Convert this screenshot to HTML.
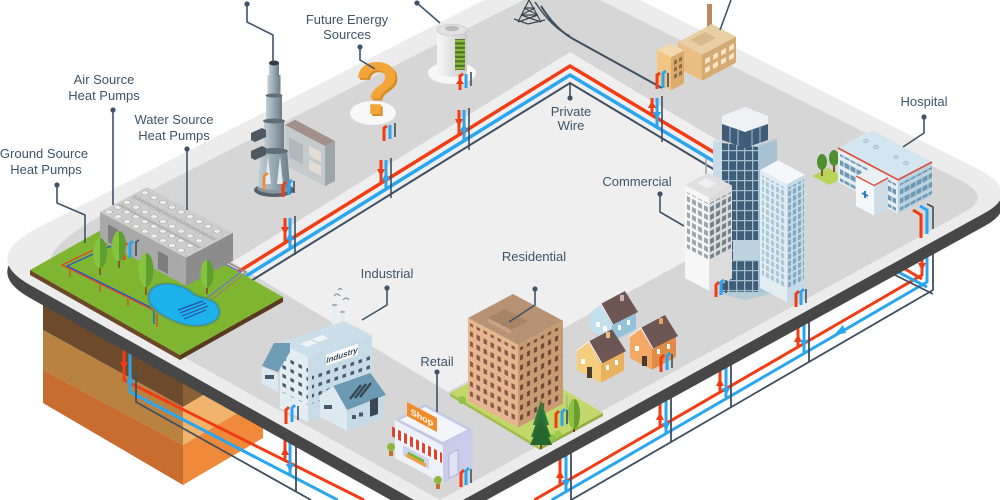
<!DOCTYPE html>
<html><head><meta charset="utf-8"><style>
html,body{margin:0;padding:0;background:#fff;width:1000px;height:500px;overflow:hidden;}
svg{display:block;overflow:hidden;}
text{font-family:"Liberation Sans",sans-serif;}
</style></head><body>
<svg width="1000" height="500" viewBox="0 0 1000 500" xmlns="http://www.w3.org/2000/svg">
<defs>
<pattern id="resL" width="7" height="10" patternUnits="userSpaceOnUse"><rect x="1.5" y="2" width="3.5" height="5" fill="#8c5a49"/><rect x="0.5" y="7.2" width="6" height="1.6" fill="#efb2a2"/></pattern>
<pattern id="resR" width="7" height="10" patternUnits="userSpaceOnUse"><rect x="2" y="2" width="3" height="5" fill="#6f4536"/></pattern>
<pattern id="gD" width="8" height="10" patternUnits="userSpaceOnUse"><rect width="8" height="10" fill="#3f5e79"/><rect width="8" height="1.2" fill="#a5bfcf"/><rect width="1.2" height="10" fill="#a5bfcf"/></pattern>
<pattern id="gL" width="5" height="7" patternUnits="userSpaceOnUse"><rect x="1" y="1" width="3" height="5" fill="#a4c6d8"/></pattern>
<pattern id="gR" width="5" height="7" patternUnits="userSpaceOnUse"><rect x="1" y="1" width="3" height="5" fill="#7ea6bf"/></pattern>
<pattern id="wW" width="6" height="8" patternUnits="userSpaceOnUse"><rect x="1" y="2" width="4" height="5" fill="#98a3ab"/></pattern>
<pattern id="wG" width="6" height="8" patternUnits="userSpaceOnUse"><rect x="1" y="2" width="4" height="5" fill="#6f808d"/></pattern>
<pattern id="indW" width="8" height="9" patternUnits="userSpaceOnUse"><rect x="2.5" y="2.5" width="3.5" height="3.5" fill="#46596a"/></pattern>
<pattern id="fan" width="9" height="9" patternUnits="userSpaceOnUse"><circle cx="4.5" cy="4.5" r="2.7" fill="#eeeeee" stroke="#a5a5a5" stroke-width="0.6"/></pattern>
<pattern id="hospW" width="6" height="9" patternUnits="userSpaceOnUse"><rect x="0.5" y="2" width="5" height="5" fill="#6e98b3"/></pattern>
<linearGradient id="towerG" x1="0" x2="1"><stop offset="0" stop-color="#c3ced5"/><stop offset="0.5" stop-color="#97a7b1"/><stop offset="1" stop-color="#6d7d88"/></linearGradient>
<linearGradient id="batG" x1="0" x2="1"><stop offset="0" stop-color="#f7f7f7"/><stop offset="1" stop-color="#cbcbcb"/></linearGradient>
</defs>

<rect width="1000" height="500" fill="#ffffff"/>

<!-- soil block -->
<polygon points="43,280 183,362 183,407 43,330" fill="#6c4a2b"/>
<polygon points="43,330 183,407 183,445 43,370" fill="#b98240"/>
<polygon points="43,370 183,445 183,485 43,403" fill="#c86c30"/>
<polygon points="183,362 263,315 263,360 183,407" fill="#8a6035"/>
<polygon points="183,407 263,360 263,398 183,445" fill="#f0b46c"/>
<polygon points="183,445 263,398 263,438 183,485" fill="#ef8a3b"/>

<!-- under-slab pipes -->
<g fill="none" stroke-linejoin="round">
<path d="M124,345 L124,380 L364,500" stroke="#f23c13" stroke-width="3"/>
<path d="M130,345 L130,392 L337.7,500" stroke="#2aa5f0" stroke-width="3"/>
<path d="M136,372 L136,402 L311,500" stroke="#3d4f60" stroke-width="1.8"/>
<path d="M285,438 L285,461" stroke="#f23c13" stroke-width="3"/>
<path d="M290,440 L290,475" stroke="#2aa5f0" stroke-width="3"/>
<path d="M296,440 L296,492" stroke="#3d4f60" stroke-width="1.8"/>

<path d="M922,255 L922,275 L534.2,500" stroke="#f23c13" stroke-width="3"/>
<path d="M927,255 L927,282 L551.6,500" stroke="#2aa5f0" stroke-width="3"/>
<path d="M933,252 L933,290 L571.1,500" stroke="#3d4f60" stroke-width="1.8"/>
<path d="M922,279 L905,269" stroke="#f23c13" stroke-width="3"/>
<path d="M927,287 L898,272" stroke="#2aa5f0" stroke-width="3"/>
<path d="M933,294 L893,274" stroke="#3d4f60" stroke-width="1.8"/>

<path d="M798,325 L798,347" stroke="#f23c13" stroke-width="3"/>
<path d="M804,323 L804,354" stroke="#2aa5f0" stroke-width="3"/>
<path d="M809,320 L809,362" stroke="#3d4f60" stroke-width="1.8"/>
<path d="M720,368 L720,392" stroke="#f23c13" stroke-width="3"/>
<path d="M726,365 L726,399" stroke="#2aa5f0" stroke-width="3"/>
<path d="M731,362 L731,407" stroke="#3d4f60" stroke-width="1.8"/>
<path d="M660,401 L660,427" stroke="#f23c13" stroke-width="3"/>
<path d="M666,398 L666,434" stroke="#2aa5f0" stroke-width="3"/>
<path d="M671,395 L671,442" stroke="#3d4f60" stroke-width="1.8"/>
<path d="M560,456 L560,485" stroke="#f23c13" stroke-width="3"/>
<path d="M566,453 L566,491" stroke="#2aa5f0" stroke-width="3"/>
<path d="M571,450 L571,500" stroke="#3d4f60" stroke-width="1.8"/>
</g>
<g>
<polygon points="120,362 128,362 124,370" fill="#f23c13"/>
<polygon points="126,383 134,383 130,375" fill="#2aa5f0"/>
<polygon points="281,455 289,455 285,447" fill="#f23c13"/>
<polygon points="286,464 294,464 290,472" fill="#2aa5f0"/>
<polygon points="918,263 926,263 922,271" fill="#f23c13"/>
<polygon points="834,335 846,333 843,325" fill="#2aa5f0"/>
<polygon points="794,342 802,342 798,334" fill="#f23c13"/>
<polygon points="800,340 808,340 804,348" fill="#2aa5f0"/>
<polygon points="716,386 724,386 720,378" fill="#f23c13"/>
<polygon points="722,388 730,388 726,396" fill="#2aa5f0"/>
<polygon points="656,420 664,420 660,412" fill="#f23c13"/>
<polygon points="662,423 670,423 666,431" fill="#2aa5f0"/>
<polygon points="556,478 564,478 560,470" fill="#f23c13"/>
<polygon points="562,480 570,480 566,488" fill="#2aa5f0"/>
</g>

<!-- slab -->
<path d="M40,239.6 L509.8,0 L614,0 L975,180.5 Q1023.5,204.8 985,225.9 L486.6,500 L390.7,500 L30,298 Q-20,270 40,239.6 Z" fill="#474747"/>
<path d="M40,226.6 L484.3,0 L640,0 L975,167.5 Q1023.5,191.8 985,212.9 L463,500 L414,500 L30,285 Q-20,257 40,226.6 Z" fill="#ececec"/>
<path d="M110,211 L523.5,0 L600,0 L960,180 Q993,196.5 965,211.9 L440,500 L70,293.4 Q12,261 110,211 Z" fill="#d6d6d6"/>
<polygon points="570,52 807,194 448,392 232,262" fill="#efefef"/>

<!-- pylon and wires -->
<g stroke="#3a4550" stroke-width="1.2" fill="none">
<path d="M518,22 L529,0 L541,22 M521,15 L538,15 M524,8 L535,8 M518,22 L538,15 M521,15 L541,22 M521,15 L535,8 M524,8 L538,15 M514,19 L528,24 L545,20"/>
</g>
<path d="M541,6 Q556,30 575,40 L662,88" stroke="#3d4f60" stroke-width="2" fill="none"/>
<path d="M535,2 Q552,28 570,36" stroke="#3d4f60" stroke-width="1.5" fill="none"/>

<!-- top pipes -->
<g fill="none" stroke-linejoin="miter">
<polyline points="225,280 570,66 730,162" stroke="#f23c13" stroke-width="3.5"/>
<polyline points="225,289 570,75 730,171" stroke="#2aa5f0" stroke-width="3.5"/>
<polyline points="225,297 570,83 730,179" stroke="#3d4f60" stroke-width="2"/>
<path d="M459,110 L459,135" stroke="#f23c13" stroke-width="3"/>
<path d="M464,141 L464,110" stroke="#2aa5f0" stroke-width="3"/>
<path d="M469,108 L469,150" stroke="#3d4f60" stroke-width="1.6"/>
<path d="M381,160 L381,183" stroke="#f23c13" stroke-width="3"/>
<path d="M386,189 L386,160" stroke="#2aa5f0" stroke-width="3"/>
<path d="M391,158 L391,198" stroke="#3d4f60" stroke-width="1.6"/>
<path d="M285,218 L285,243" stroke="#f23c13" stroke-width="3"/>
<path d="M290,250 L290,218" stroke="#2aa5f0" stroke-width="3"/>
<path d="M295,216 L295,255" stroke="#3d4f60" stroke-width="1.6"/>
<path d="M652,98 L652,115" stroke="#f23c13" stroke-width="3"/>
<path d="M657,127 L657,98" stroke="#2aa5f0" stroke-width="3"/>
<path d="M662,96 L662,142" stroke="#3d4f60" stroke-width="1.6"/>
<path d="M570,84 L570,98" stroke="#3d4f60" stroke-width="1.6"/>
</g>
<polygon points="455,119 463,119 459,127" fill="#f23c13"/>
<polygon points="460,131 468,131 464,123" fill="#2aa5f0"/>
<polygon points="377,169 385,169 381,177" fill="#f23c13"/>
<polygon points="382,180 390,180 386,172" fill="#2aa5f0"/>
<polygon points="281,227 289,227 285,235" fill="#f23c13"/>
<polygon points="286,240 294,240 290,232" fill="#2aa5f0"/>
<polygon points="648,108 656,108 652,100" fill="#f23c13"/>
<polygon points="653,112 661,112 657,120" fill="#2aa5f0"/>

<!-- factory top right -->
<rect x="707" y="4" width="5" height="30" fill="#b98c5f"/>
<polygon points="678,42 712,24 736,36.7 702,54.7" fill="#e8cfa4"/>
<polygon points="690,40 705,32 716,38 701,46" fill="#d9bb8b"/>
<polygon points="678,42 702,54.7 702,80.7 678,68" fill="#e9bf86"/>
<polygon points="702,54.7 736,36.7 736,62.7 702,80.7" fill="#d6ab73"/>
<g transform="translate(702,54.7) skewY(-28)" fill="#f7e6c8"><rect x="3" y="6" width="5" height="5"/><rect x="11" y="6" width="5" height="5"/><rect x="19" y="6" width="5" height="5"/><rect x="27" y="6" width="5" height="5"/><rect x="3" y="15" width="5" height="5"/><rect x="11" y="15" width="5" height="5"/><rect x="19" y="15" width="5" height="5"/><rect x="27" y="15" width="5" height="5"/></g>
<polygon points="657,50 670,43.1 684,50.5 671,57.4" fill="#f3d9ae"/>
<polygon points="657,50 671,57.4 671,90.4 657,83" fill="#f4c483"/>
<polygon points="671,57.4 684,50.5 684,83.5 671,90.4" fill="#dcaa6b"/>
<g transform="translate(671,57.4) skewY(-28)" fill="#8d6a4a"><rect x="3" y="5" width="3" height="4"/><rect x="8" y="5" width="3" height="4"/><rect x="3" y="12" width="3" height="4"/><rect x="8" y="12" width="3" height="4"/><rect x="3" y="19" width="3" height="4"/><rect x="8" y="19" width="3" height="4"/></g>
<g fill="none"><path d="M657,89 L657,75 L660,73" stroke="#f23c13" stroke-width="3"/><path d="M663,88 L663,73 L666,71" stroke="#2aa5f0" stroke-width="3"/><path d="M668,87 L668,73" stroke="#3d4f60" stroke-width="1.6"/></g>

<!-- battery -->
<ellipse cx="452" cy="73" rx="24" ry="11" fill="#f7f7f7"/>
<path d="M437,30 L437,72 A15,5 0 0 0 467,72 L467,30 Z" fill="url(#batG)"/>
<ellipse cx="452" cy="30" rx="15" ry="5.5" fill="#e2e2e2" stroke="#c9c9c9" stroke-width="0.8"/>
<ellipse cx="452" cy="28.5" rx="7" ry="2.8" fill="#b9b9b9"/>
<rect x="455" y="39" width="10" height="31" fill="#4f7a25"/>
<g fill="#8cbb40"><rect x="455" y="40" width="10" height="2.2"/><rect x="455" y="44.5" width="10" height="2.2"/><rect x="455" y="49" width="10" height="2.2"/><rect x="455" y="53.5" width="10" height="2.2"/><rect x="455" y="58" width="10" height="2.2"/><rect x="455" y="62.5" width="10" height="2.2"/><rect x="455" y="67" width="10" height="2.2"/></g>
<g fill="none"><path d="M460,90 L460,76 L463,74" stroke="#f23c13" stroke-width="3"/><path d="M466,88 L466,74" stroke="#2aa5f0" stroke-width="3"/><path d="M471,86 L471,72" stroke="#3d4f60" stroke-width="1.6"/></g>
<polygon points="456,84 464,84 460,78" fill="#f23c13"/>

<!-- question mark -->
<ellipse cx="373" cy="113" rx="23" ry="12" fill="#f8f8f8"/>
<text x="379" y="116" font-size="74" font-weight="bold" fill="#d98a2b" text-anchor="middle">?</text>
<text x="377" y="114" font-size="74" font-weight="bold" fill="#f4a53a" text-anchor="middle">?</text>
<g fill="none"><path d="M384,141 L384,128 L387,126" stroke="#f23c13" stroke-width="3"/><path d="M390,139 L390,125" stroke="#2aa5f0" stroke-width="3"/><path d="M395,137 L395,123" stroke="#3d4f60" stroke-width="1.6"/></g>

<!-- power tower + building -->
<polygon points="285,125 295,119.7 335,141 325,146.3" fill="#a3908a"/>
<polygon points="285,125 325,146.3 325,186.3 285,165" fill="#c5cacd"/>
<polygon points="325,146.3 335,141 335,181 325,186.3" fill="#9fa6ab"/>
<g transform="translate(285,125) skewY(28)"><rect x="24" y="8" width="12" height="10" fill="#e3ddd5"/><rect x="24" y="22" width="12" height="10" fill="#e3ddd5"/><rect x="4" y="10" width="14" height="20" fill="#b2b8bc"/></g>
<ellipse cx="274" cy="190" rx="20" ry="7" fill="#56626b"/>
<ellipse cx="274" cy="188" rx="17" ry="5.5" fill="#8796a0"/>
<path d="M261,150 L287,150 L290,187 Q274,193 258,187 Z" fill="url(#towerG)"/>
<path d="M265,184 L268,156 L271,184 Z M277,184 L280,156 L283,184 Z" fill="#e4ebef"/>
<rect x="264" y="120" width="20" height="32" fill="url(#towerG)"/>
<ellipse cx="274" cy="151" rx="14" ry="3" fill="#5f6e78"/>
<rect x="266" y="95" width="16" height="26" fill="url(#towerG)"/>
<ellipse cx="274" cy="121" rx="11" ry="2.5" fill="#5f6e78"/>
<rect x="267.5" y="75" width="13" height="21" fill="url(#towerG)"/>
<ellipse cx="274" cy="95.5" rx="8.5" ry="2" fill="#5f6e78"/>
<rect x="269" y="63" width="10" height="13" fill="url(#towerG)"/>
<ellipse cx="274" cy="63" rx="5" ry="2.5" fill="#2f3a44"/>
<polygon points="251,133 262,128 266,130 266,137 255,142 251,140" fill="#4d5860"/>
<polygon points="251,151 262,146 266,148 266,155 255,160 251,158" fill="#4d5860"/>
<path d="M264,190 L264,176 L268,173" stroke="#f08a2a" stroke-width="2.5" fill="none"/>
<g fill="none"><path d="M283,197 L283,185 L286,182" stroke="#f23c13" stroke-width="3"/><path d="M289,195 L289,183 L292,180" stroke="#2aa5f0" stroke-width="3"/><path d="M294,193 L294,181" stroke="#3d4f60" stroke-width="1.6"/></g>

<!-- green plot -->
<polygon points="30,270 180,355 180,360 30,275" fill="#6b4726"/>
<polygon points="180,355 283,297 283,302 180,360" fill="#5a3a1f"/>
<polygon points="30,270 133,212 283,297 180,355" fill="#7fb631"/>
<g fill="none" stroke-width="1.3">
<path d="M110,242 L62,265 L157,312 L157,327" stroke="#e0452a"/>
<path d="M113,245 L67,266 L154,309 L154,324" stroke="#2d4fc9"/>
<path d="M70,270 L70,277 M100,285 L100,292 M128,299 L128,306" stroke="#e0452a"/>
<path d="M214,255 L246,272 L214,298 L200,306" stroke="#a08070"/>
<path d="M211,257 L241,272 L211,295 L198,303" stroke="#6a78c8"/>
</g>
<path d="M150,292 C156,280 182,283 193,294 C201,300 218,298 219,311 C220,325 196,329 178,322 C162,316 144,305 150,292 Z" fill="none" stroke="#6ea336" stroke-width="4"/>
<path d="M150,292 C156,280 182,283 193,294 C201,300 218,298 219,311 C220,325 196,329 178,322 C162,316 144,305 150,292 Z" fill="#1db2ec" stroke="#2f8fbf" stroke-width="1.2"/>
<path d="M180,313 L206,303 M182,316 L208,306 M184,319 L206,310 M178,310 L203,301" stroke="#2c4e9a" stroke-width="1.2" fill="none"/>

<!-- heat pump building -->
<polygon points="100,212 186,257.7 186,285.7 100,240" fill="#a9a9a9"/>
<polygon points="186,257.7 233,232.7 233,260.7 186,285.7" fill="#8c8c8c"/>
<polygon points="100,212 147,187 233,232.7 186,257.7" fill="#cdcdcd"/>
<g transform="matrix(1,0.5317,1,-0.5317,100,212)">
<rect x="2" y="2" width="82" height="43" fill="url(#fan)"/>
<rect x="2" y="15" width="82" height="3" fill="#b5b5b5"/>
<rect x="2" y="30" width="82" height="3" fill="#b5b5b5"/>
</g>
<g transform="translate(100,212) skewY(28)" fill="#7d7d7d"><rect x="8" y="8" width="10" height="18"/><rect x="58" y="8" width="10" height="18"/></g>
<g fill="none"><path d="M124,260 L124,246 L127,243" stroke="#f23c13" stroke-width="3"/><path d="M130,258 L130,244 L133,241" stroke="#2aa5f0" stroke-width="3"/><path d="M136,256 L136,242 L139,240" stroke="#3d4f60" stroke-width="1.6"/></g>

<!-- trees on plot -->
<g><rect x="99" y="262" width="2" height="13" fill="#8a5a2b"/><ellipse cx="100" cy="253" rx="7" ry="15" fill="#86c440"/><path d="M100,238 A7,15 0 0 1 100,268 Z" fill="#5f9f2f"/></g>
<g><rect x="118" y="255" width="2" height="13" fill="#8a5a2b"/><ellipse cx="119" cy="246" rx="7" ry="15" fill="#86c440"/><path d="M119,231 A7,15 0 0 1 119,261 Z" fill="#5f9f2f"/></g>
<circle cx="106" cy="274" r="4" fill="#7cb83a"/>
<g><rect x="145" y="280" width="2" height="15" fill="#8a5a2b"/><ellipse cx="146" cy="270" rx="7.5" ry="17" fill="#86c440"/><path d="M146,253 A7.5,17 0 0 1 146,287 Z" fill="#5f9f2f"/></g>
<g><rect x="206" y="283" width="2" height="11" fill="#8a5a2b"/><ellipse cx="207" cy="274" rx="6.5" ry="14" fill="#86c440"/><path d="M207,260 A6.5,14 0 0 1 207,288 Z" fill="#5f9f2f"/></g>

<!-- hospital -->
<polygon points="812,176 828,168 845,177 829,185" fill="#b9d45a"/>
<rect x="821" y="166" width="2" height="10" fill="#7a5a30"/><ellipse cx="822" cy="162" rx="5" ry="8" fill="#4f8f2f"/>
<rect x="833" y="162" width="2" height="10" fill="#7a5a30"/><ellipse cx="834" cy="158" rx="5" ry="8" fill="#4f8f2f"/>
<polygon points="838,148 898,179.8 898,213.8 838,182" fill="#e3eef4"/>
<polygon points="898,179.8 932,162 932,196 898,213.8" fill="#bad2df"/>
<g transform="translate(838,148) skewY(28)"><rect x="2" y="5" width="56" height="27" fill="url(#hospW)"/></g>
<g transform="translate(898,179.8) skewY(-28)"><rect x="2" y="5" width="32" height="27" fill="url(#hospW)"/></g>
<polygon points="838,148 872,130 932,162 898,179.8" fill="#d3e6f0"/>
<polyline points="838,148 898,179.8 932,162" fill="none" stroke="#e04a3a" stroke-width="1.6"/>
<g fill="#c3d4dd" stroke="#97adb9" stroke-width="0.6"><ellipse cx="866" cy="141" rx="2.5" ry="1.6"/><ellipse cx="876" cy="147" rx="2.5" ry="1.6"/><ellipse cx="896" cy="157" rx="2.5" ry="1.6"/><ellipse cx="906" cy="163" rx="2.5" ry="1.6"/></g>
<polygon points="856,176 874,185.5 874,215.5 856,206" fill="#f4f8fa"/>
<polygon points="874,185.5 888,178 888,208 874,215.5" fill="#cfdde6"/>
<polygon points="856,176 870,168.6 888,178 874,185.5" fill="#e9f1f5"/>
<polyline points="856,176 874,185.5 888,178" fill="none" stroke="#e04a3a" stroke-width="1.3"/>
<path d="M862,193 L868,196 M865,191 L865,198" stroke="#2f7fc0" stroke-width="2"/>
<g fill="none"><path d="M913,210 L921,215 L921,238" stroke="#f23c13" stroke-width="3"/><path d="M920,206 L927,210 L927,234" stroke="#2aa5f0" stroke-width="3"/><path d="M927,204 L933,207 L933,229" stroke="#3d4f60" stroke-width="1.6"/></g>

<!-- commercial -->
<polygon points="713,140 745,150 777,138 777,292 745,300 713,292" fill="#b5cbd8"/>
<polygon points="722,143 758,147 758,292 722,292" fill="url(#gD)"/>
<polygon points="758,147 777,140 777,292 758,292" fill="#a8c2d2"/>
<polygon points="713,140 722,143 722,292 713,292" fill="#c9dbe5"/>
<polygon points="722,116 745,107 768,116 768,124 745,132 722,124" fill="#eef2f5"/>
<polygon points="722,124 745,132 768,124 768,140 745,148 722,140" fill="#3f5d78"/>
<g stroke="#a5bfcf" stroke-width="1"><line x1="730" y1="127" x2="730" y2="143"/><line x1="738" y1="130" x2="738" y2="146"/><line x1="752" y1="130" x2="752" y2="146"/><line x1="760" y1="127" x2="760" y2="143"/></g>
<rect x="733" y="240" width="28" height="20" fill="#bcd3df"/>

<polygon points="760,170 778,160.4 805,174.7 787,184.3" fill="#f4f8fa"/>
<polygon points="760,170 787,184.3 787,302.3 760,288" fill="#e2edf2"/>
<polygon points="787,184.3 805,174.7 805,292.7 787,302.3" fill="#c5dae6"/>
<g transform="translate(760,170) skewY(28)"><rect x="2" y="4" width="24" height="100" fill="url(#gL)"/></g>
<g transform="translate(787,184.3) skewY(-28)"><rect x="1" y="4" width="16" height="100" fill="url(#gR)"/></g>

<line x1="706" y1="158" x2="706" y2="178" stroke="#9aa3aa" stroke-width="1.5"/>
<polygon points="685,185 708,172.8 732,185.5 709,197.7" fill="#e0e0e0"/>
<polygon points="697,183 706,178 716,183.5 707,188.5" fill="#f0f0f0"/>
<polygon points="685,185 709,197.7 709,290.7 685,278" fill="#f7f7f7"/>
<polygon points="709,197.7 732,185.5 732,278.5 709,290.7" fill="#dcdcdc"/>
<g transform="translate(685,185) skewY(28)"><rect x="2" y="6" width="21" height="56" fill="url(#wW)"/></g>
<g transform="translate(709,197.7) skewY(-28)"><rect x="1" y="6" width="21" height="56" fill="url(#wG)"/></g>
<g fill="none"><path d="M716,297 L716,285 L719,282" stroke="#f23c13" stroke-width="3"/><path d="M721,295 L721,282 L724,280" stroke="#2aa5f0" stroke-width="3"/><path d="M726,293 L726,280" stroke="#3d4f60" stroke-width="1.6"/></g>
<g fill="none"><path d="M796,307 L796,294 L799,291" stroke="#f23c13" stroke-width="3"/><path d="M801,305 L801,292 L804,289" stroke="#2aa5f0" stroke-width="3"/><path d="M806,303 L806,289" stroke="#3d4f60" stroke-width="1.6"/></g>

<!-- industrial -->
<rect x="332" y="305" width="5" height="33" fill="#e6eef3"/><ellipse cx="334.5" cy="305" rx="2.5" ry="1.2" fill="#9fb3c0"/>
<rect x="340" y="312" width="5" height="28" fill="#e6eef3"/><ellipse cx="342.5" cy="312" rx="2.5" ry="1.2" fill="#9fb3c0"/>
<path d="M334,296 q3,-4 6,0 M343,300 q3,-4 6,0 M338,290 q2,-3 4,0" stroke="#7a8a96" stroke-width="1" fill="none"/>
<polygon points="280,343 344,321 372,335 308,357" fill="#cadfe9"/>
<polygon points="300,344 310,340 317,343 307,347" fill="#eef4f8"/>
<polygon points="312,339 322,335 329,338 319,342" fill="#eef4f8"/>
<polygon points="280,343 308,357 308,422 280,408" fill="#e3eef4"/>
<polygon points="308,357 372,335 372,400 308,422" fill="#c7dce7"/>
<g transform="translate(280,343) skewY(26.6)"><rect x="2" y="8" width="26" height="40" fill="url(#indW)"/></g>
<g transform="translate(308,357) skewY(-19)"><rect x="4" y="18" width="58" height="30" fill="url(#indW)"/><rect x="18" y="4" width="32" height="11" fill="#ffffff"/><text x="34" y="12.5" font-size="8" font-weight="bold" font-style="italic" text-anchor="middle" fill="#33495a">Industry</text></g>
<polygon points="262,366 274,343 290,343 290,352 278,372" fill="#6f9db6"/>
<polygon points="262,366 278,374 278,392 262,384" fill="#dae8ef"/>
<rect x="265" y="375" width="9" height="4" fill="#44596a"/>
<polygon points="320,395 333.5,386 370.5,373 357,382" fill="#5a8aa5"/>
<polygon points="320,395 347,409 347,431 320,417" fill="#dce9f0"/>
<polygon points="347,409 384,396 384,418 347,431" fill="#c6dbe6"/>
<polygon points="320,395 333.5,386 347,409" fill="#dce9f0"/>
<polygon points="333.5,386 370.5,373 386,395 347,410" fill="#6d9ab3"/>
<path d="M350,399 L361,385 M355,398 L366,384 M360,397 L371,383" stroke="#384955" stroke-width="2.5"/>
<rect x="324" y="405" width="8" height="4" fill="#44596a"/>
<polygon points="370,400 378,397.3 378,414 370,416.7" fill="#3b4852"/>
<rect x="352" y="415" width="4" height="4" fill="#44596a"/><rect x="359" y="412.5" width="4" height="4" fill="#44596a"/>
<g fill="none"><path d="M286,424 L286,410 L289,407" stroke="#f23c13" stroke-width="3"/><path d="M292,422 L292,408 L295,405" stroke="#2aa5f0" stroke-width="3"/><path d="M298,420 L298,406" stroke="#3d4f60" stroke-width="1.6"/></g>

<!-- houses -->
<g>
<polygon points="590,312 612,323.7 612,341.7 590,330" fill="#c3e0ee"/>
<polygon points="612,323.7 636,311 636,329 612,341.7" fill="#93c2da"/>
<polygon points="590,312 601,303.9 625,291.1 614,299.2" fill="#574341"/>
<polygon points="590,312 601,303.9 612,323.7" fill="#c3e0ee"/>
<polygon points="601,303.9 625,291.1 638,312 612,325" fill="#6d5653"/>
<polyline points="589,313 601,303.9 613,325" fill="none" stroke="#f3ece8" stroke-width="1.2"/>
<rect x="596" y="322" width="4" height="5" fill="#fff"/><rect x="603" y="326" width="4" height="5" fill="#fff"/>
<rect x="618" y="325" width="3" height="5" fill="#fff"/><rect x="627" y="320" width="3" height="5" fill="#fff"/>
<rect x="620" y="295" width="4" height="6" fill="#c9b5ad"/>
</g>
<g>
<polygon points="630,336 652,347.7 652,369.7 630,358" fill="#f4a863"/>
<polygon points="652,347.7 676,335 676,357 652,369.7" fill="#e28d47"/>
<polygon points="630,336 641,327.9 665,315.1 654,323.2" fill="#574341"/>
<polygon points="630,336 641,327.9 652,347.7" fill="#f4a863"/>
<polygon points="641,327.9 665,315.1 678,336 652,349" fill="#6d5653"/>
<polyline points="629,337 641,327.9 653,349" fill="none" stroke="#f3ece8" stroke-width="1.2"/>
<rect x="635" y="346" width="4" height="5" fill="#fff"/><rect x="642" y="356" width="5" height="10" fill="#4a3a34"/>
<rect x="657" y="349" width="3" height="5" fill="#fff"/><rect x="667" y="344" width="3" height="5" fill="#fff"/>
<rect x="659" y="318" width="4" height="6" fill="#e8a05a"/>
</g>
<g>
<polygon points="577,350 601,362.8 601,382.8 577,370" fill="#f6cd7d"/>
<polygon points="601,362.8 624,350.5 624,370.5 601,382.8" fill="#e8b25f"/>
<polygon points="577,350 589,341.4 612,329.2 600,337.8" fill="#574341"/>
<polygon points="577,350 589,341.4 601,362.8" fill="#f6cd7d"/>
<polygon points="589,341.4 612,329.2 626,351 601,364" fill="#6d5653"/>
<polyline points="576,351 589,341.4 602,364" fill="none" stroke="#f3ece8" stroke-width="1.2"/>
<rect x="581" y="359" width="4" height="5" fill="#fff"/><rect x="587" y="367" width="5" height="11" fill="#4a3a34"/>
<rect x="606" y="365" width="3" height="5" fill="#fff"/><rect x="615" y="360" width="3" height="5" fill="#fff"/>
<rect x="606" y="332" width="4" height="6" fill="#e8c07a"/>
</g>
<g fill="none"><path d="M661,372 L661,358 L664,355" stroke="#f23c13" stroke-width="3"/><path d="M667,370 L667,356 L670,353" stroke="#2aa5f0" stroke-width="3"/><path d="M672,368 L672,354" stroke="#3d4f60" stroke-width="1.6"/></g>

<!-- residential -->
<polygon points="450,393 513,359 603,413 540,447" fill="#c2d86a"/>
<polygon points="450,393 540,447 540,450 450,396" fill="#a5bd4c"/>
<polygon points="540,447 603,413 603,416 540,450" fill="#93ab40"/>
<polygon points="468,318 518,344.6 518,427.6 468,401" fill="#e4b78d"/>
<polygon points="518,344.6 563,320.7 563,403.7 518,427.6" fill="#c89b73"/>
<g transform="translate(468,318) skewY(28)"><rect x="2" y="4" width="47" height="76" fill="url(#resL)"/></g>
<g transform="translate(518,344.6) skewY(-28)"><rect x="2" y="4" width="42" height="76" fill="url(#resR)"/></g>
<polygon points="468,318 513,294 563,320.7 518,344.6" fill="#b89275"/>
<polygon points="488,318 505,309 528,321 511,330" fill="#a88467"/>
<polygon points="488,318 511,330 511,334 488,322" fill="#c9a384"/>
<circle cx="462" cy="400" r="4" fill="#8fc248"/>
<circle cx="552" cy="438" r="4" fill="#8fc248"/><circle cx="558" cy="434" r="3.5" fill="#9acb4a"/>
<polygon points="541,400 533,425 549,425" fill="#2f7a3a"/>
<polygon points="541,410 531,437 551,437" fill="#2a6e35"/>
<polygon points="541,420 530,445 552,445" fill="#26652f"/>
<rect x="540" y="445" width="2" height="4" fill="#6b4a2a"/>
<rect x="573" y="420" width="2" height="12" fill="#6b4a2a"/>
<ellipse cx="574" cy="414" rx="6" ry="15" fill="#8cc23f"/>
<path d="M574,399 A6,15 0 0 1 574,429 Z" fill="#669f2f"/>
<line x1="567" y1="395" x2="567" y2="425" stroke="#9aa" stroke-width="1.2"/>
<g fill="none"><path d="M556,428 L556,414 L559,411" stroke="#f23c13" stroke-width="3"/><path d="M562,426 L562,412 L565,409" stroke="#2aa5f0" stroke-width="3"/><path d="M567,424 L567,410" stroke="#3d4f60" stroke-width="1.6"/></g>

<!-- retail -->
<polygon points="395,420 443,445.5 443,483.5 395,458" fill="#eef0fa"/>
<polygon points="443,445.5 473,429.6 473,467.6 443,483.5" fill="#c9cde9"/>
<polygon points="395,420 425,404 473,429.6 443,445.5" fill="#c5c9e3"/>
<polygon points="400,420 425,407 467,429.6 443,442" fill="#f4f5fb"/>
<g transform="translate(395,420) skewY(28)">
<rect x="-3" y="8" width="50" height="10" fill="#ffffff"/>
<rect x="-3" y="8" width="3" height="10" fill="#e8402f"/><rect x="3" y="8" width="3" height="10" fill="#e8402f"/><rect x="9" y="8" width="3" height="10" fill="#e8402f"/><rect x="15" y="8" width="3" height="10" fill="#e8402f"/><rect x="21" y="8" width="3" height="10" fill="#e8402f"/><rect x="27" y="8" width="3" height="10" fill="#e8402f"/><rect x="33" y="8" width="3" height="10" fill="#e8402f"/><rect x="39" y="8" width="3" height="10" fill="#e8402f"/><rect x="45" y="8" width="2" height="10" fill="#e8402f"/>
<rect x="8" y="21" width="26" height="10" fill="#cdd3ec"/>
<rect x="11" y="27" width="20" height="4" fill="#f0a040"/>
<rect x="13" y="24.5" width="16" height="3" fill="#7cb83a"/>
</g>
<g transform="translate(407,402) skewY(28)"><rect x="0" y="0" width="30" height="14" fill="#f28c28"/><text x="15" y="10.5" font-size="9" font-weight="bold" fill="#ffffff" text-anchor="middle">Shop</text></g>
<g transform="translate(443,445.5) skewY(-28)"><rect x="6" y="12" width="9" height="24" fill="#dfe3f5" stroke="#a9aed0" stroke-width="0.8"/></g>
<circle cx="391" cy="447" r="4" fill="#8fb83a"/><rect x="389" y="451" width="4" height="5" fill="#c2702a"/>
<circle cx="438" cy="480" r="4" fill="#8fb83a"/><rect x="436" y="484" width="4" height="5" fill="#c2702a"/>
<g fill="none"><path d="M461,487 L461,473 L464,470" stroke="#f23c13" stroke-width="3"/><path d="M466,485 L466,471 L469,468" stroke="#2aa5f0" stroke-width="3"/><path d="M471,483 L471,469" stroke="#3d4f60" stroke-width="1.6"/></g>

<!-- label lines -->
<g fill="none" stroke="#3e5468" stroke-width="1.6" stroke-linejoin="round">
<path d="M113,110 L113,205"/>
<path d="M187,149 L187,210"/>
<path d="M57,185 L57,203 L85,215 L85,243"/>
<path d="M247,4 L247,22 L273,35 L273,62"/>
<path d="M360,47 L360,60 L375,69"/>
<path d="M417,3 L440,23"/>
<path d="M731,0 L720,30"/>
<path d="M924,117 L924,133 L903,147"/>
<path d="M660,194 L660,212 L684,226"/>
<path d="M387,288 L387,305 L362,320"/>
<path d="M535,289 L535,305 L509,322"/>
<path d="M437,372 L437,412"/>
</g>
<g fill="#3e5468">
<circle cx="113" cy="110" r="2.6"/><circle cx="187" cy="149" r="2.6"/><circle cx="57" cy="185" r="2.6"/>
<circle cx="247" cy="4" r="2.6"/><circle cx="360" cy="47" r="2.6"/><circle cx="417" cy="3" r="2.6"/>
<circle cx="924" cy="117" r="2.6"/><circle cx="660" cy="194" r="2.6"/><circle cx="387" cy="288" r="2.6"/>
<circle cx="535" cy="289" r="2.6"/><circle cx="437" cy="372" r="2.6"/><circle cx="570" cy="98" r="2.6"/>
</g>

<!-- labels -->
<g font-size="13" fill="#3e5468" text-anchor="middle">
<text x="104" y="84">Air Source</text><text x="104" y="100">Heat Pumps</text>
<text x="174" y="124">Water Source</text><text x="174" y="140">Heat Pumps</text>
<text x="44" y="158">Ground Source</text><text x="46" y="174">Heat Pumps</text>
<text x="347" y="24">Future Energy</text><text x="347" y="39">Sources</text>
<text x="571" y="116">Private</text><text x="571" y="130">Wire</text>
<text x="924" y="106">Hospital</text>
<text x="637" y="186">Commercial</text>
<text x="387" y="278">Industrial</text>
<text x="534" y="261">Residential</text>
<text x="437" y="366">Retail</text>
</g>
</svg>
</body></html>
